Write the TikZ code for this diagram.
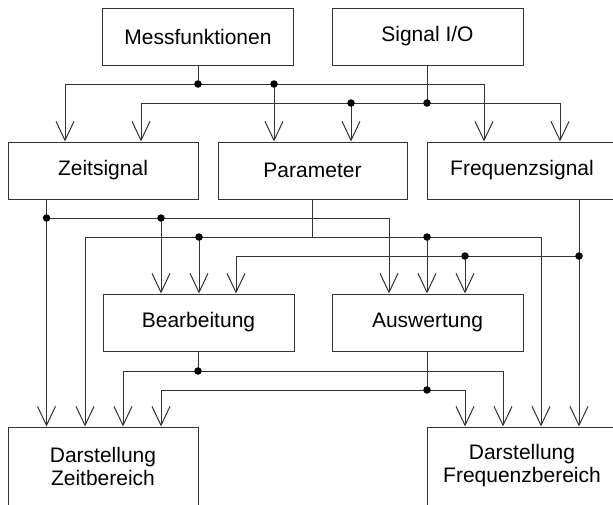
\documentclass[tikz,border=0pt]{standalone}
\usepackage{fontspec}
\setmainfont{Liberation Sans}
\usetikzlibrary{arrows.meta}
\begin{document}
\begin{tikzpicture}[x=1pt,y=-1pt,
  box/.style={draw=black!80, line width=1pt, minimum height=57pt, inner sep=0pt,
              font=\fontsize{21}{23}\selectfont, align=center},
  conn/.style={draw=black!80, line width=1pt},
  arr/.style={conn, -{Straight Barb[length=19pt,width=18pt]}},
  jdot/.style={circle, fill=black, inner sep=0pt, minimum size=7.5pt}]
\useasboundingbox (0,0) rectangle (613,504);
\fill[white] (0,0) rectangle (613,504);
\clip (0,0) rectangle (613,504);

% boxes
\node[box, minimum width=191pt] (mess)  at (198,36.5)  {Messfunktionen};
\node[box, minimum width=191pt] (sio)   at (427.5,36.5) {Signal I/O};
\node[box, minimum width=190pt] (zeit)  at (103,170.5) {Zeitsignal};
\node[box, minimum width=189pt] (param) at (312.5,170.5) {Parameter};
\node[box, minimum width=190pt] (freq)  at (522,170.5) {Frequenzsignal};
\node[box, minimum width=191pt] (bearb) at (198.5,322.5) {Bearbeitung};
\node[box, minimum width=191pt] (ausw)  at (427.5,322.5) {Auswertung};
\node[box, minimum width=190pt, minimum height=78pt] (dz) at (103,466) {Darstellung\\Zeitbereich};
\node[box, minimum width=190pt, minimum height=78pt] (df) at (522,466) {Darstellung\\Frequenzbereich};

% top junctions
\coordinate (m1)  at (198,84);
\coordinate (l1a) at (65,84);
\coordinate (l1b) at (274,84);
\coordinate (l1c) at (484,84);
\coordinate (s1)  at (427,103);
\coordinate (l2a) at (141,103);
\coordinate (l2b) at (351,103);
\coordinate (l2c) at (560,103);

\draw[conn] (mess.south -| m1) -- (m1);
\draw[conn] (l1a) -- (l1c);
\draw[arr] (l1a) -- (l1a |- zeit.north);
\draw[arr] (l1b) -- (l1b |- param.north);
\draw[arr] (l1c) -- (l1c |- freq.north);

\draw[conn] (sio.south -| s1) -- (s1);
\draw[conn] (l2a) -- (l2c);
\draw[arr] (l2a) -- (l2a |- zeit.north);
\draw[arr] (l2b) -- (l2b |- param.north);
\draw[arr] (l2c) -- (l2c |- freq.north);

% middle: Zeitsignal
\coordinate (z1) at (46.5,218);
\coordinate (z2) at (161,218);
\coordinate (z3) at (389,218);
\draw[arr] (zeit.south -| z1) -- (z1 |- dz.north);
\draw[conn] (z1) -- (z3);
\draw[arr] (z2) -- (z2 |- bearb.north);
\draw[arr] (z3) -- (z3 |- ausw.north);

% middle: Parameter
\coordinate (p0) at (312,237);
\coordinate (p1) at (85,237);
\coordinate (p2) at (199,237);
\coordinate (p3) at (427,237);
\coordinate (p4) at (541,237);
\draw[conn] (param.south -| p0) -- (p0);
\draw[conn] (p1) -- (p4);
\draw[arr] (p1) -- (p1 |- dz.north);
\draw[arr] (p2) -- (p2 |- bearb.north);
\draw[arr] (p3) -- (p3 |- ausw.north);
\draw[arr] (p4) -- (p4 |- df.north);

% middle: Frequenzsignal
\coordinate (f0) at (579,256);
\coordinate (f1) at (236,256);
\coordinate (f2) at (465,256);
\draw[arr] (freq.south -| f0) -- (f0 |- df.north);
\draw[conn] (f1) -- (f0);
\draw[arr] (f1) -- (f1 |- bearb.north);
\draw[arr] (f2) -- (f2 |- ausw.north);

% bottom: Bearbeitung
\coordinate (b0) at (198,371);
\coordinate (b1) at (123,371);
\coordinate (b2) at (503,371);
\draw[conn] (bearb.south -| b0) -- (b0);
\draw[conn] (b1) -- (b2);
\draw[arr] (b1) -- (b1 |- dz.north);
\draw[arr] (b2) -- (b2 |- df.north);

% bottom: Auswertung
\coordinate (a0) at (427,390);
\coordinate (a1) at (161,390);
\coordinate (a2) at (465,390);
\draw[conn] (ausw.south -| a0) -- (a0);
\draw[conn] (a1) -- (a2);
\draw[arr] (a1) -- (a1 |- dz.north);
\draw[arr] (a2) -- (a2 |- df.north);

% junction dots
\node[jdot] (dm1) at (m1) {};
\node[jdot] (dl1b) at (l1b) {};
\node[jdot] (ds1) at (s1) {};
\node[jdot] (dl2b) at (l2b) {};
\node[jdot] (dz1) at (z1) {};
\node[jdot] (dz2) at (z2) {};
\node[jdot] (dp2) at (p2) {};
\node[jdot] (dp3) at (p3) {};
\node[jdot] (df0) at (f0) {};
\node[jdot] (df2) at (f2) {};
\node[jdot] (db0) at (b0) {};
\node[jdot] (da0) at (a0) {};
\end{tikzpicture}
\end{document}
